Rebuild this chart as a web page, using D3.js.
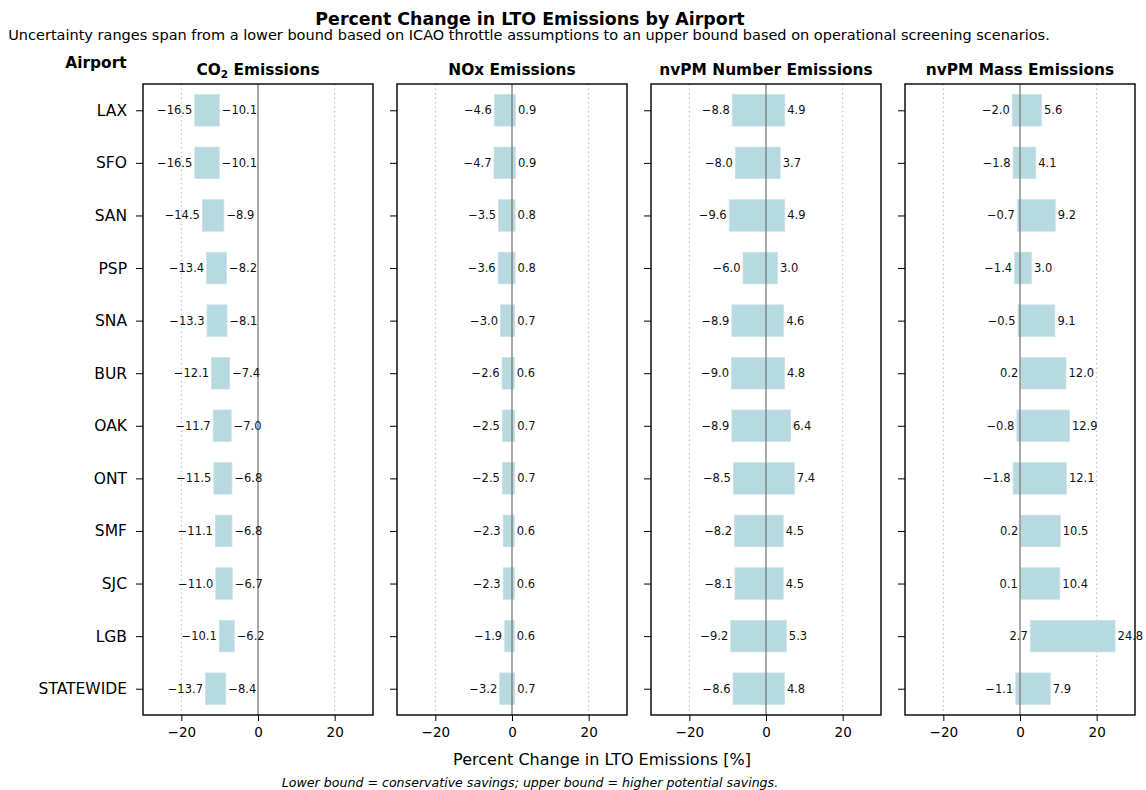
<!DOCTYPE html>
<html>
<head>
<meta charset="utf-8">
<script src="https://cdn.jsdelivr.net/npm/d3@7"></script>
<style>
  body { margin: 0; background: #fff; }
  svg { font-family: "DejaVu Sans", sans-serif; }
</style>
</head>
<body>
<div id="chart"></div>
<script>
const airports = ["LAX", "SFO", "SAN", "PSP", "SNA", "BUR", "OAK", "ONT", "SMF", "SJC", "LGB", "STATEWIDE"];

const co2Lower = [-16.5, -16.5, -14.5, -13.4, -13.3, -12.1, -11.7, -11.5, -11.1, -11.0, -10.1, -13.7];
const co2Upper = [-10.1, -10.1, -8.9, -8.2, -8.1, -7.4, -7.0, -6.8, -6.8, -6.7, -6.2, -8.4];

const noxLower = [-4.6, -4.7, -3.5, -3.6, -3.0, -2.6, -2.5, -2.5, -2.3, -2.3, -1.9, -3.2];
const noxUpper = [0.9, 0.9, 0.8, 0.8, 0.7, 0.6, 0.7, 0.7, 0.6, 0.6, 0.6, 0.7];

const numLower = [-8.8, -8.0, -9.6, -6.0, -8.9, -9.0, -8.9, -8.5, -8.2, -8.1, -9.2, -8.6];
const numUpper = [4.9, 3.7, 4.9, 3.0, 4.6, 4.8, 6.4, 7.4, 4.5, 4.5, 5.3, 4.8];

const massLower = [-2.0, -1.8, -0.7, -1.4, -0.5, 0.2, -0.8, -1.8, 0.2, 0.1, 2.7, -1.1];
const massUpper = [5.6, 4.1, 9.2, 3.0, 9.1, 12.0, 12.9, 12.1, 10.5, 10.4, 24.8, 7.9];

const panelTitles = ["CO2", "NOx Emissions", "nvPM Number Emissions", "nvPM Mass Emissions"];
const xTicks = [-20, 0, 20];
const xDomain = [-30, 30];

const panels = [
  { title: panelTitles[0], lower: co2Lower, upper: co2Upper },
  { title: panelTitles[1], lower: noxLower, upper: noxUpper },
  { title: panelTitles[2], lower: numLower, upper: numUpper },
  { title: panelTitles[3], lower: massLower, upper: massUpper },
];

const width = 1146,
  height = 790,
  panelLeft = [143, 397, 651, 905],
  panelWidth = 230,
  plotTop = 84,
  plotBottom = 715,
  barColor = "#b7d9e0";

const svg = d3.select("#chart")
  .append("svg")
  .attr("width", width)
  .attr("height", height);

const yScale = d3.scalePoint()
  .domain(airports)
  .range([plotTop, plotBottom])
  .padding(0.5);

const barH = yScale.step() * 0.6;

const xScale = d3.scaleLinear()
  .domain(xDomain)
  .range([0, panelWidth]);

const fmt = d3.format(".1f");

panels.forEach((p, i) => {
  const g = svg.append("g")
    .attr("transform", `translate(${panelLeft[i]},0)`);

  // dotted grid
  g.selectAll(".grid")
    .data(xTicks.filter(d => d !== 0))
    .join("line")
    .attr("class", "grid")
    .attr("x1", d => xScale(d))
    .attr("x2", d => xScale(d))
    .attr("y1", plotTop)
    .attr("y2", plotBottom)
    .attr("stroke", "#b8b8b8")
    .attr("stroke-width", 1)
    .attr("stroke-dasharray", "1.5,3");

  const rows = airports.map((a, j) => ({ airport: a, lo: p.lower[j], hi: p.upper[j] }));

  g.selectAll(".bar")
    .data(rows)
    .join("rect")
    .attr("class", "bar")
    .attr("x", d => xScale(Math.min(d.lo, d.hi)))
    .attr("y", d => yScale(d.airport) - barH / 2)
    .attr("width", d => Math.abs(xScale(d.hi) - xScale(d.lo)))
    .attr("height", barH)
    .attr("fill", barColor)
    .attr("stroke", "#c8e2e8")
    .attr("stroke-width", 0.8);

  // zero line
  g.append("line")
    .attr("x1", xScale(0))
    .attr("x2", xScale(0))
    .attr("y1", plotTop)
    .attr("y2", plotBottom)
    .attr("stroke", "#7a7a7a")
    .attr("stroke-width", 1.3);

  g.selectAll(".lo-label")
    .data(rows)
    .join("text")
    .attr("class", "lo-label")
    .attr("x", d => xScale(d.lo) - 2.5)
    .attr("y", d => yScale(d.airport))
    .attr("dy", "0.35em")
    .attr("text-anchor", "end")
    .attr("font-size", 11.5)
    .attr("fill", "#111")
    .text(d => fmt(d.lo));

  g.selectAll(".hi-label")
    .data(rows)
    .join("text")
    .attr("class", "hi-label")
    .attr("x", d => xScale(d.hi) + 2.5)
    .attr("y", d => yScale(d.airport))
    .attr("dy", "0.35em")
    .attr("text-anchor", "start")
    .attr("font-size", 11.5)
    .attr("fill", "#111")
    .text(d => fmt(d.hi));

  // frame
  g.append("rect")
    .attr("x", 0)
    .attr("y", plotTop)
    .attr("width", panelWidth)
    .attr("height", plotBottom - plotTop)
    .attr("fill", "none")
    .attr("stroke", "#000")
    .attr("stroke-width", 1.4);

  // x axis
  const xAxis = g.append("g")
    .attr("transform", `translate(0,${plotBottom})`)
    .call(d3.axisBottom(xScale).tickValues(xTicks).tickSize(6).tickPadding(6));
  xAxis.select(".domain").remove();
  xAxis.selectAll("text").attr("font-size", 13.5).attr("font-family", "DejaVu Sans").attr("fill", "#000");

  // y axis (ticks on every panel, labels on first)
  const yAxis = g.append("g")
    .call(d3.axisLeft(yScale).tickSize(7).tickPadding(9));
  yAxis.select(".domain").remove();
  yAxis.selectAll("text")
    .attr("font-size", 15.5)
    .attr("font-family", "DejaVu Sans")
    .attr("fill", "#000")
    .style("display", i === 0 ? null : "none");

  // panel title
  const t = g.append("text")
    .attr("x", panelWidth / 2)
    .attr("y", 75)
    .attr("text-anchor", "middle")
    .attr("font-size", 15.4)
    .attr("font-weight", "bold");
  if (i === 0) {
    t.append("tspan").text("CO");
    t.append("tspan").attr("font-size", 10.5).attr("dy", 3).text("2");
    t.append("tspan").attr("dy", -3).text(" Emissions");
  } else {
    t.text(p.title);
  }
});

svg.append("text")
  .attr("x", 96)
  .attr("y", 68)
  .attr("text-anchor", "middle")
  .attr("font-size", 15.4)
  .attr("font-weight", "bold")
  .text("Airport");

svg.append("text")
  .attr("x", 530)
  .attr("y", 25)
  .attr("text-anchor", "middle")
  .attr("font-size", 17.4)
  .attr("font-weight", "bold")
  .text("Percent Change in LTO Emissions by Airport");

svg.append("text")
  .attr("x", 529)
  .attr("y", 40)
  .attr("text-anchor", "middle")
  .attr("font-size", 14.5)
  .text("Uncertainty ranges span from a lower bound based on ICAO throttle assumptions to an upper bound based on operational screening scenarios.");

svg.append("text")
  .attr("x", 602)
  .attr("y", 765)
  .attr("text-anchor", "middle")
  .attr("font-size", 16)
  .text("Percent Change in LTO Emissions [%]");

svg.append("text")
  .attr("x", 530)
  .attr("y", 787)
  .attr("text-anchor", "middle")
  .attr("font-size", 12.6)
  .attr("font-style", "italic")
  .text("Lower bound = conservative savings; upper bound = higher potential savings.");
</script>
</body>
</html>
